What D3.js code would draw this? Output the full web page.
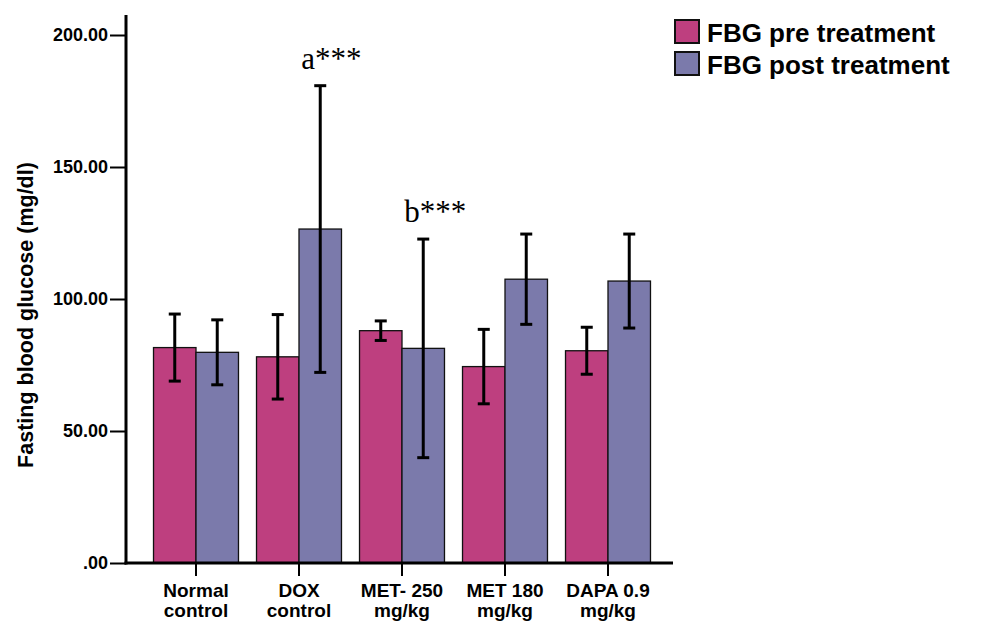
<!DOCTYPE html>
<html>
  <head>
    <meta charset="utf-8">
    <title>Fasting blood glucose</title>
    <style>
      body { margin: 0; background: #fff; }
      text { font-family: Arial, "Liberation Sans", sans-serif; font-weight: bold; }
    </style>
  </head>
  <body>
    <div id="container"></div>
    <script src="https://d3js.org/d3.v7.min.js"></script>
    <script>

      // DATA
      var groups = ["Normal control", "DOX control", "MET- 250 mg/kg", "MET 180 mg/kg", "DAPA 0.9 mg/kg"];
      var groupLines = [["Normal", "control"], ["DOX", "control"], ["MET- 250", "mg/kg"], ["MET 180", "mg/kg"], ["DAPA 0.9", "mg/kg"]];
      var series = ["FBG pre treatment", "FBG post treatment"];
      var preMean = [81.6, 78.1, 88.0, 74.4, 80.4];
      var preErr = [12.7, 16.0, 3.7, 14.1, 8.9];
      var postMean = [79.8, 126.5, 81.3, 107.5, 106.8];
      var postErr = [12.3, 54.3, 41.4, 17.1, 17.8];
      var yTicks = [0, 50, 100, 150, 200];
      var notes = [{ group: "DOX control", label: "a***" }, { group: "MET- 250 mg/kg", label: "b***" }];
      var colors = ["#be3f7f", "#7b7aab"];

      // build rows for drawing
      var rows = [];
      groups.forEach(function (g, i) {
        rows.push({ group: g, key: series[0], mean: preMean[i], err: preErr[i] });
        rows.push({ group: g, key: series[1], mean: postMean[i], err: postErr[i] });
      });

      var W = 982, H = 621;
      var svg = d3.select("#container")
        .append("svg")
        .attr("width", W)
        .attr("height", H);

      // SCALES
      var y = d3.scaleLinear().domain([0, 200]).range([563, 35]);
      var x0 = d3.scaleBand().domain(groups).range([144.5, 659.5])
        .paddingInner(0.175).paddingOuter(0.0875);
      var x1 = d3.scaleBand().domain(series).range([0, x0.bandwidth()]);
      var color = d3.scaleOrdinal().domain(series).range(colors);

      // BARS
      svg.append("g").selectAll("rect")
        .data(rows)
        .enter()
        .append("rect")
        .attr("x", d => x0(d.group) + x1(d.key))
        .attr("y", d => y(d.mean))
        .attr("width", x1.bandwidth())
        .attr("height", d => y(0) - y(d.mean))
        .attr("fill", d => color(d.key))
        .attr("stroke", "#111")
        .attr("stroke-width", 1.3);

      // ERROR BARS
      var eb = svg.append("g").selectAll("g")
        .data(rows)
        .enter()
        .append("g")
        .attr("transform", d => "translate(" + (x0(d.group) + x1(d.key) + x1.bandwidth() / 2) + ",0)");
      eb.append("line")
        .attr("y1", d => y(d.mean + d.err))
        .attr("y2", d => y(d.mean - d.err))
        .attr("stroke", "#000").attr("stroke-width", 3);
      eb.selectAll(".cap")
        .data(d => [d.mean + d.err, d.mean - d.err])
        .enter()
        .append("line")
        .attr("x1", -6).attr("x2", 6)
        .attr("y1", v => y(v)).attr("y2", v => y(v))
        .attr("stroke", "#000").attr("stroke-width", 3);

      // Y AXIS
      var yAxis = svg.append("g")
        .attr("transform", "translate(126,0)")
        .call(d3.axisLeft(y).tickValues(yTicks).tickSize(16).tickPadding(2)
          .tickFormat(d => d === 0 ? ".00" : d3.format(".2f")(d)));
      yAxis.select(".domain").remove();
      yAxis.selectAll(".tick line").attr("stroke", "#000").attr("stroke-width", 2);
      yAxis.selectAll(".tick text").attr("font-size", 18).attr("fill", "#000")
        .style("font-family", "Arial, 'Liberation Sans', sans-serif").style("font-weight", "bold");
      svg.append("line")
        .attr("x1", 126).attr("x2", 126).attr("y1", 15).attr("y2", y(0) + 1.5)
        .attr("stroke", "#000").attr("stroke-width", 3);

      // X AXIS
      var xAxis = svg.append("g")
        .attr("transform", "translate(0," + y(0) + ")")
        .call(d3.axisBottom(x0).tickSize(13).tickFormat(""));
      xAxis.select(".domain").remove();
      xAxis.selectAll(".tick line").attr("stroke", "#000").attr("stroke-width", 2);
      svg.append("line")
        .attr("x1", 124.5).attr("x2", 673).attr("y1", y(0)).attr("y2", y(0))
        .attr("stroke", "#000").attr("stroke-width", 3);

      var xl = svg.append("g").selectAll("text")
        .data(groups)
        .enter()
        .append("text")
        .attr("x", d => x0(d) + x0.bandwidth() / 2)
        .attr("text-anchor", "middle")
        .attr("font-size", 19)
        .attr("fill", "#000");
      xl.selectAll("tspan")
        .data((d, i) => groupLines[i])
        .enter()
        .append("tspan")
        .attr("x", function () { return d3.select(this.parentNode).attr("x"); })
        .attr("y", (d, i) => 597 + i * 20)
        .text(d => d);

      // Y TITLE
      svg.append("text")
        .attr("transform", "translate(33,315) rotate(-90)")
        .attr("text-anchor", "middle")
        .attr("font-size", 21.5)
        .attr("fill", "#000")
        .text("Fasting blood glucose (mg/dl)");

      // SIGNIFICANCE NOTES
      svg.append("g").selectAll("text")
        .data(notes)
        .enter()
        .append("text")
        .attr("x", d => x0(d.group) + x1(series[1]) + x1.bandwidth() / 2 - 19)
        .attr("y", d => { var r = rows.find(r => r.group === d.group && r.key === series[1]); return y(r.mean + r.err) - 17; })
        .style("font-family", "'Liberation Serif', 'Times New Roman', serif")
        .style("font-weight", "normal")
        .attr("font-size", 31)
        .attr("fill", "#000")
        .text(d => d.label);

      // LEGEND
      var leg = svg.append("g").selectAll("g")
        .data(series)
        .enter()
        .append("g")
        .attr("transform", (d, i) => "translate(675," + (20 + i * 32) + ")");
      leg.append("rect")
        .attr("width", 24).attr("height", 23)
        .attr("fill", d => color(d))
        .attr("stroke", "#111").attr("stroke-width", 2);
      leg.append("text")
        .attr("x", 32).attr("y", 22)
        .attr("font-size", 26)
        .attr("fill", "#000")
        .text(d => d);

    </script>
  </body>
</html>
